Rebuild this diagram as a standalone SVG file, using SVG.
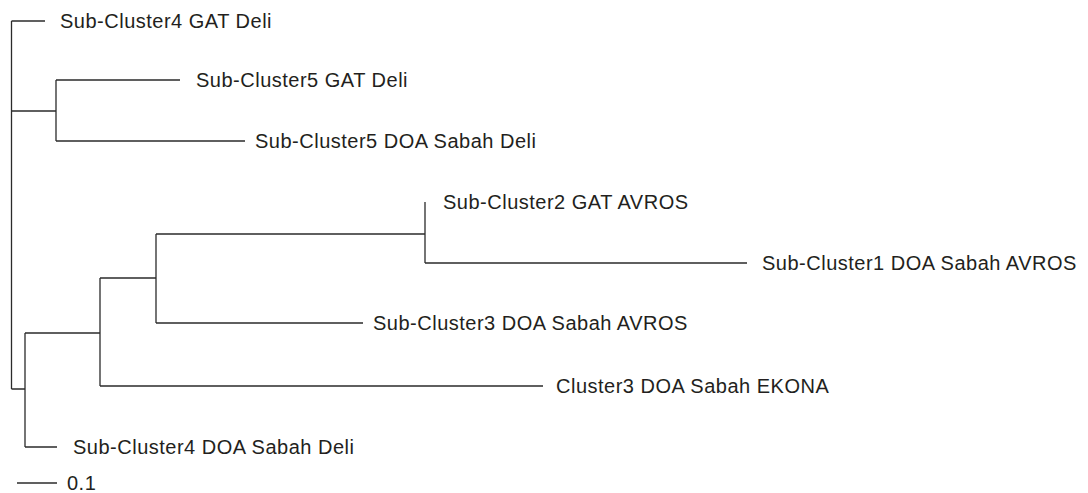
<svg xmlns="http://www.w3.org/2000/svg" width="1088" height="493" viewBox="0 0 1088 493">
  <style>
    .br { fill: none; stroke: #2b2b2b; stroke-width: 1.3; }
    .lbl { font-family: "Liberation Sans", Arial, sans-serif; font-size: 20px; letter-spacing: 0.5px; fill: #231f20; }
  </style>
  <rect width="1088" height="493" fill="#ffffff"/>

  <!-- tree branches -->
  <g id="connectors">
    <!-- root -->
    <path class="br" d="M11.5,21 V389 M11.5,111 H56 M11.5,389 H25"/>
    <!-- Sub-Cluster5 clade -->
    <path class="br" d="M56,80 V141 M56,80 H180 M56,141 H245"/>
    <!-- lower clade -->
    <path class="br" d="M25,333 V447 M25,333 H100 M25,447 H57"/>
    <path class="br" d="M100,278 V386 M100,278 H156 M100,386 H543"/>
    <path class="br" d="M156,234 V323 M156,234 H425 M156,323 H363"/>
    <path class="br" d="M425,202 V263 M425,263 H747"/>
    <!-- top leaf -->
    <path class="br" d="M11.5,21 H45"/>
  </g>

  <g id="leaf-sc4-gat"><text class="lbl" x="60" y="28">Sub-Cluster4 GAT Deli</text></g>
  <g id="leaf-sc5-gat"><text class="lbl" x="196" y="87">Sub-Cluster5 GAT Deli</text></g>
  <g id="leaf-sc5-doa"><text class="lbl" x="255" y="148">Sub-Cluster5 DOA Sabah Deli</text></g>
  <g id="leaf-sc2-gat"><text class="lbl" x="443" y="209">Sub-Cluster2 GAT AVROS</text></g>
  <g id="leaf-sc1-doa"><text class="lbl" x="762" y="270">Sub-Cluster1 DOA Sabah AVROS</text></g>
  <g id="leaf-sc3-doa"><text class="lbl" x="373" y="330">Sub-Cluster3 DOA Sabah AVROS</text></g>
  <g id="leaf-c3-doa"><text class="lbl" x="556" y="393">Cluster3 DOA Sabah EKONA</text></g>
  <g id="leaf-sc4-doa"><text class="lbl" x="73" y="454">Sub-Cluster4 DOA Sabah Deli</text></g>

  <!-- scale bar -->
  <g id="scale">
    <path class="br" d="M17,483 H57"/>
    <text class="lbl" x="67" y="490">0.1</text>
  </g>
</svg>
